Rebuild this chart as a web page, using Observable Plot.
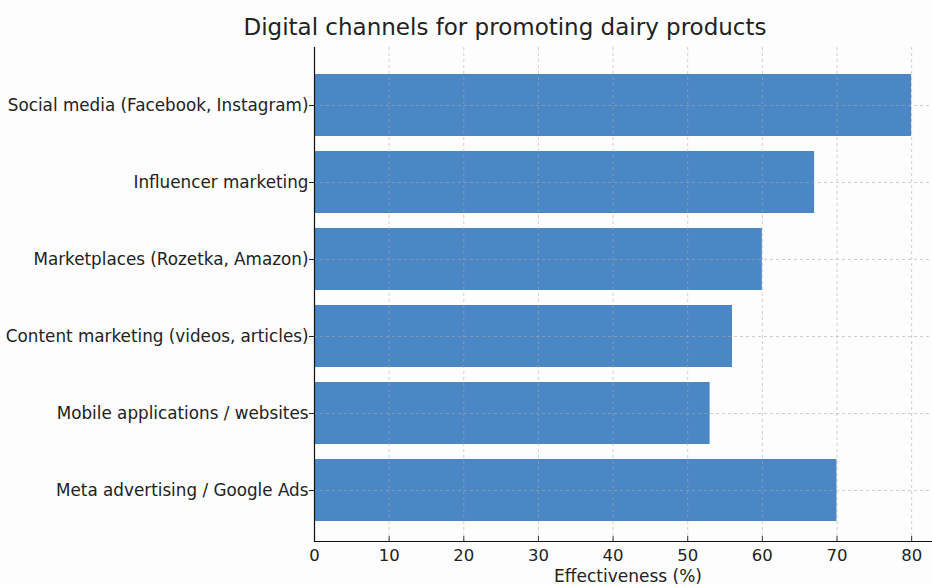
<!DOCTYPE html>
<html>
<head>
<meta charset="utf-8">
<script src="https://cdn.jsdelivr.net/npm/d3@7"></script>
<script src="https://cdn.jsdelivr.net/npm/@observablehq/plot@0.6"></script>
<style>
  html, body { margin: 0; padding: 0; background: #fdfdfd; overflow: hidden; width: 932px; height: 584px; }
  #wrap { position: relative; width: 932px; height: 584px; overflow: hidden; }
  #title { position: absolute; top: 14px; left: 0; width: 1010px; text-align: center;
           font-family: "DejaVu Sans", sans-serif; font-size: 23px; color: #222; }
  #chart { position: absolute; top: 0; left: 0; }
  #chart svg { max-width: none !important; }
</style>
</head>
<body>
<div id="wrap">
  <div id="chart"></div>
  <div id="title">Digital channels for promoting dairy products</div>
</div>
<script>
const categories = [
  "Social media (Facebook, Instagram)",
  "Influencer marketing",
  "Marketplaces (Rozetka, Amazon)",
  "Content marketing (videos, articles)",
  "Mobile applications / websites",
  "Meta advertising / Google Ads"
];
const values = [80, 67, 60, 56, 53, 70];
const xTicks = [0, 10, 20, 30, 40, 50, 60, 70, 80];
const xLabel = "Effectiveness (%)";

const data = categories.map((c, i) => ({channel: c, value: values[i]}));

const H = 584, MT = 47, MB = 43;
const frameH = H - MT - MB;

const chart = Plot.plot({
  width: 941,
  height: H,
  marginTop: MT,
  marginBottom: MB,
  marginLeft: 314,
  marginRight: 0,
  style: {fontFamily: "DejaVu Sans, sans-serif", background: "transparent", color: "#222", maxWidth: "none"},
  x: {domain: [0, 84], ticks: xTicks},
  y: {domain: categories, paddingInner: 0.2, paddingOuter: 0.287, align: 0.57},
  marks: [
    Plot.barX(data, {x: "value", y: "channel", fill: "#4a87c4"}),
    Plot.gridX(xTicks, {stroke: "#aaa", strokeOpacity: 0.55, strokeDasharray: "3,3"}),
    Plot.gridY({stroke: "#aaa", strokeOpacity: 0.55, strokeDasharray: "3,3"}),
    Plot.axisX(xTicks, {fontSize: 16.5, tickSize: 0, tickPadding: 8, label: null}),
    Plot.ruleX(xTicks, {insetTop: frameH - 5, stroke: "#333", strokeWidth: 1}),
    Plot.text([xLabel], {frameAnchor: "bottom", dy: 40, lineAnchor: "bottom", fontSize: 17, fill: "#222"}),
    Plot.axisY({fontSize: 16.8, tickSize: 5, tickPadding: 1, label: null}),
    Plot.ruleX([0], {stroke: "#111", strokeWidth: 1.2}),
    Plot.frame({anchor: "bottom", stroke: "#111", strokeWidth: 1.2})
  ]
});
document.getElementById("chart").appendChild(chart);
</script>
</body>
</html>
